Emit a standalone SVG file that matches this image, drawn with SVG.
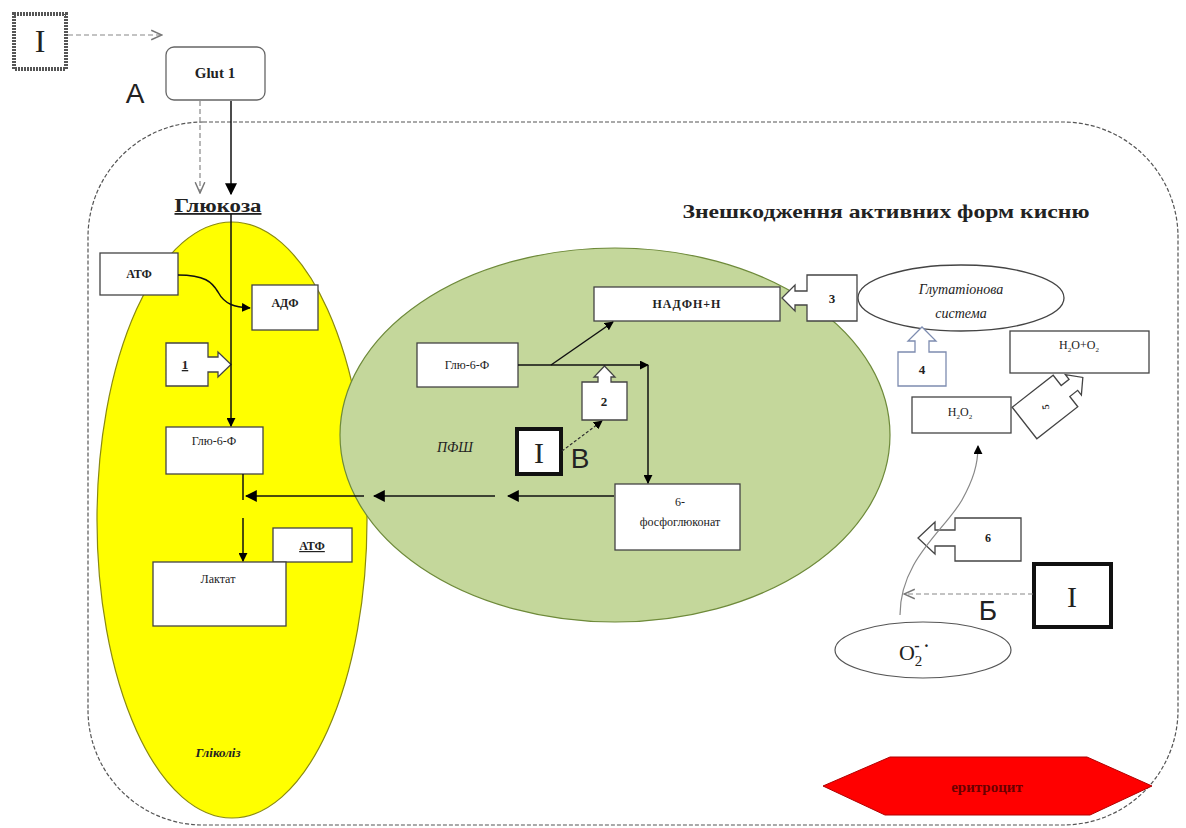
<svg xmlns="http://www.w3.org/2000/svg" width="1186" height="828" viewBox="0 0 1186 828">
<defs>
<marker id="fa" viewBox="0 0 10 10" refX="9" refY="5" markerWidth="9" markerHeight="9" markerUnits="userSpaceOnUse" orient="auto"><path d="M0,0 L10,5 L0,10 Z" fill="#000"/></marker>
<marker id="fa2" viewBox="0 0 10 10" refX="9" refY="5" markerWidth="12" markerHeight="12" markerUnits="userSpaceOnUse" orient="auto"><path d="M0,0 L10,5 L0,10 Z" fill="#000"/></marker>
<marker id="oa" viewBox="0 0 10 10" refX="9" refY="5" markerWidth="12" markerHeight="12" markerUnits="userSpaceOnUse" orient="auto"><path d="M0,1 L9,5 L0,9" fill="none" stroke="#777" stroke-width="1.2"/></marker>
</defs>
<style>
.t{font-family:"Liberation Serif","DejaVu Serif",serif;fill:#222;text-anchor:middle}
.b{font-weight:bold}
.s{font-family:"Liberation Sans",Arial,sans-serif;fill:#222;text-anchor:middle}
.box{fill:#fff;stroke:#444;stroke-width:1.3}
.ln{fill:none;stroke:#111;stroke-width:1.5}
.dl{fill:none;stroke:#888;stroke-width:1.2;stroke-dasharray:5 3}
.ib{fill:#fff;stroke:#111;stroke-width:4}
</style>
<rect width="1186" height="828" fill="#fff"/>

<!-- cell container -->
<g id="cell">
<rect x="88" y="122" width="1090" height="703" rx="115" ry="115" fill="none" stroke="#555" stroke-width="1.2" stroke-dasharray="4 2"/>
</g>

<g id="glycolysis">
<ellipse cx="232" cy="520" rx="135" ry="298" fill="#ffff00" stroke="#8a8a10" stroke-width="1.2"/>
<text class="t b" x="218" y="757" font-size="13" font-style="italic">Гліколіз</text>
</g>

<g id="pfsh">
<ellipse cx="615" cy="435" rx="275" ry="187" fill="#c4d79b" stroke="#6e8a3a" stroke-width="1.2"/>
<text class="t" x="455" y="452" font-size="14" font-style="italic">ПФШ</text>
</g>

<g id="inh-top">
<rect x="14" y="14" width="52" height="55" fill="#fff" stroke="#555" stroke-width="4" stroke-dasharray="2 1"/>
<text class="t" x="40" y="52" font-size="32">I</text>
</g>
<text class="s" x="135" y="103" font-size="28">А</text>

<g id="glut1">
<rect x="166" y="47" width="99" height="53" rx="8" fill="#fff" stroke="#666" stroke-width="1.3"/>
<text class="t b" x="215" y="78" font-size="15">Glut 1</text>
</g>

<g id="glucose">
<text class="t b" x="218" y="212" font-size="18" text-decoration="underline" textLength="87" lengthAdjust="spacingAndGlyphs">Глюкоза</text>
</g>

<g id="atf1"><rect class="box" x="100" y="253" width="78" height="42"/><text class="t b" x="139" y="278" font-size="12">АТФ</text></g>
<g id="adf"><rect class="box" x="252" y="285" width="66" height="45"/><text class="t b" x="285" y="307" font-size="12">АДФ</text></g>
<g id="enz1"><path class="box" d="M166,343 H208 V357 H218 V352 L231,364.5 L218,377 V372 H208 V386 H166 Z"/><text class="t b" x="185" y="369" font-size="13" text-decoration="underline">1</text></g>
<g id="g6f-left"><rect class="box" x="166" y="427" width="97" height="47"/><text class="t" x="214" y="445" font-size="12">Глю-6-Ф</text></g>
<g id="atf2"><rect class="box" x="273" y="528" width="79" height="34"/><text class="t b" x="312" y="550" font-size="12" text-decoration="underline">АТФ</text></g>
<g id="lactate"><rect class="box" x="153" y="562" width="133" height="64"/><text class="t" x="218" y="583" font-size="12">Лактат</text></g>

<g id="g6f-pfsh"><rect class="box" x="417" y="343" width="101" height="44"/><text class="t" x="467" y="369" font-size="12">Глю-6-Ф</text></g>
<g id="nadph"><rect class="box" x="594" y="287" width="186" height="34"/><text class="t b" x="687" y="308" font-size="12" letter-spacing="1">НАДФН+Н</text></g>
<g id="enz2"><path class="box" d="M582,382 H598 V377 H594 L604.5,366 L615,377 H611 V382 H627 V420 H582 Z"/><text class="t b" x="604" y="406" font-size="13">2</text></g>
<g id="inh-v"><rect class="ib" x="517" y="429" width="44" height="45"/><text class="t" x="539" y="463" font-size="30">I</text></g>
<text class="s" x="580" y="468" font-size="28">В</text>
<g id="pg6"><rect class="box" x="615" y="484" width="125" height="66"/><text class="t" x="680" y="506" font-size="12">6-</text><text class="t" x="680" y="526" font-size="12">фосфоглюконат</text></g>

<text class="t b" x="886" y="218" font-size="19" textLength="407" lengthAdjust="spacingAndGlyphs">Знешкодження активних форм кисню</text>

<g id="enz3"><path class="box" d="M857,275 V321 H807 V305 H795 V311 L782,298 L795,285 V291 H807 V275 Z"/><text class="t b" x="832" y="303" font-size="13">3</text></g>
<g id="gsh"><ellipse cx="961" cy="298" rx="103" ry="33" fill="#fff" stroke="#444" stroke-width="1.3"/><text class="t" x="961" y="294" font-size="14" font-style="italic">Глутатіонова</text><text class="t" x="961" y="318" font-size="14" font-style="italic">система</text></g>
<g id="enz4"><path d="M898,352 H915 V341 H908 L922,327 L936,341 H929 V352 H946 V386 H898 Z" fill="#fff" stroke="#7d8cb0" stroke-width="1.3"/><text class="t b" x="922" y="374" font-size="13">4</text></g>
<g id="h2o-o2"><rect class="box" x="1010" y="331" width="139" height="42"/><text class="t" x="1079" y="349" font-size="12">H<tspan font-size="7" dy="3">2</tspan><tspan dy="-3">O+O</tspan><tspan font-size="7" dy="3">2</tspan></text></g>
<g id="h2o2"><rect class="box" x="912" y="397" width="99" height="36"/><text class="t" x="960" y="416" font-size="12">H<tspan font-size="7" dy="3">2</tspan><tspan dy="-3">O</tspan><tspan font-size="7" dy="3">2</tspan></text></g>
<g id="enz5" transform="translate(1045,407) rotate(-38)"><path class="box" d="M-26,-20 H26 V-7 H36 V-13 L48,0 L36,13 V7 H26 V20 H-26 Z"/><text class="t b" x="0" y="4" font-size="10" transform="rotate(-60)">5</text></g>
<g id="enz6"><path class="box" d="M955,518 H1021 V561 H955 V546 H935 V554 L918,538 L935,522 V530 H955 Z"/><text class="t b" x="988" y="542" font-size="12">6</text></g>
<g id="inh-b"><rect class="ib" x="1034" y="564" width="77" height="63"/><text class="t" x="1072" y="607" font-size="30">I</text></g>
<text class="s" x="988" y="620" font-size="28">Б</text>
<g id="superoxide"><ellipse cx="923" cy="650" rx="88" ry="28" fill="#fff" stroke="#555" stroke-width="1.2"/><text class="t" x="914" y="660" font-size="22">O<tspan font-size="15" dy="6">2</tspan><tspan font-size="16" font-weight="bold" dx="-8" dy="-15">-</tspan><tspan font-size="16" font-weight="bold" dx="4" dy="0">·</tspan></text></g>
<g id="erythrocyte"><path d="M823,786 L890,757 H1087 L1152,786 L1090,815 H885 Z" fill="#ff0000" stroke="#b00000" stroke-width="1"/><text class="t b" x="987" y="792" font-size="15" style="fill:#6a0000">еритроцит</text></g>

<g id="connectors">
<line class="dl" x1="68" y1="35" x2="162" y2="35" stroke-dasharray="6 3 1 3" marker-end="url(#oa)"/>
<line class="dl" x1="200" y1="101" x2="200" y2="193" stroke-dasharray="3 3" marker-end="url(#oa)"/>
<line class="ln" x1="231" y1="101" x2="231" y2="194" marker-end="url(#fa2)"/>
<line class="ln" x1="231" y1="214" x2="231" y2="426" marker-end="url(#fa)"/>
<path class="ln" d="M178,275 C205,275 212,282 218,292 C225,305 235,307 250,308" marker-end="url(#fa)"/>
<line class="ln" x1="243" y1="474" x2="243" y2="500"/>
<line class="ln" x1="243" y1="518" x2="243" y2="561" marker-end="url(#fa)"/>
<line class="ln" x1="614" y1="496" x2="508" y2="496" marker-end="url(#fa2)"/>
<line class="ln" x1="495" y1="496" x2="374" y2="496" marker-end="url(#fa2)"/>
<line class="ln" x1="364" y1="496" x2="246" y2="496" marker-end="url(#fa2)"/>
<line class="ln" x1="518" y1="365" x2="648" y2="365" marker-end="url(#fa)"/>
<line class="ln" x1="648" y1="365" x2="648" y2="483" marker-end="url(#fa)"/>
<line class="ln" x1="551" y1="365" x2="613" y2="322" marker-end="url(#fa)"/>
<line x1="562" y1="451" x2="602" y2="421" stroke="#333" stroke-width="1.2" stroke-dasharray="3 2" marker-end="url(#fa)"/>
<path d="M900,615 C900,560 945,530 962,500 C973,480 978,465 978,446" fill="none" stroke="#888" stroke-width="1.2" marker-end="url(#fa)"/>
<line class="dl" x1="1033" y1="594" x2="904" y2="594" marker-end="url(#oa)"/>
</g>
</svg>
